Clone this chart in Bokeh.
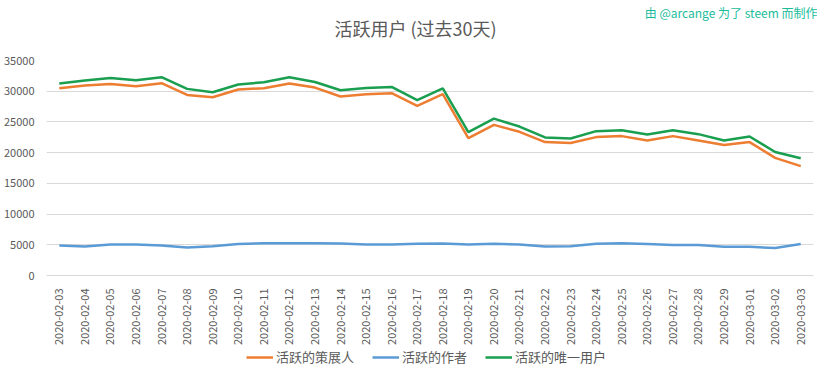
from bokeh.plotting import figure
from bokeh.models import Range1d, FixedTicker, Legend, LegendItem, Label, ColumnDataSource
from bokeh.layouts import column
from bokeh.embed import file_html
from bokeh.resources import INLINE
import math

dates = ["2020-02-03", "2020-02-04", "2020-02-05", "2020-02-06", "2020-02-07",
         "2020-02-08", "2020-02-09", "2020-02-10", "2020-02-11", "2020-02-12",
         "2020-02-13", "2020-02-14", "2020-02-15", "2020-02-16", "2020-02-17",
         "2020-02-18", "2020-02-19", "2020-02-20", "2020-02-21", "2020-02-22",
         "2020-02-23", "2020-02-24", "2020-02-25", "2020-02-26", "2020-02-27",
         "2020-02-28", "2020-02-29", "2020-03-01", "2020-03-02", "2020-03-03"]

curators = [30490, 30920, 31190, 30810, 31300, 29400, 29020, 30270, 30490, 31250,
            30590, 29140, 29520, 29680, 27630, 29520, 22370, 24520, 23390, 21720,
            21560, 22530, 22690, 21990, 22690, 21990, 21240, 21720, 19140, 17800]

authors = [4890, 4730, 5050, 5050, 4890, 4570, 4780, 5110, 5270, 5270,
           5270, 5215, 5050, 5050, 5160, 5215, 5050, 5160, 5050, 4730,
           4760, 5160, 5270, 5110, 4950, 4950, 4680, 4680, 4460, 5110]

unique_users = [31250, 31740, 32170, 31800, 32280, 30380, 29840, 31085, 31465, 32280,
                31505, 30160, 30540, 30700, 28550, 30480, 23330, 25540, 24250, 22470,
                22310, 23500, 23660, 22960, 23660, 23010, 21990, 22630, 20110, 19090]

y_ticks = [0, 5000, 10000, 15000, 20000, 25000, 30000, 35000]

series_names = ["活跃的策展人", "活跃的作者", "活跃的唯一用户"]
colors = ["#ed7d31", "#5b9bd5", "#1a9e4f"]

title_text = "活跃用户 (过去30天)"
credit_text = "由 @arcange 为了 steem 而制作"

FONT = "Noto Sans CJK SC"
GRAY = "#595959"
W = 817

def strip(h):
    f = figure(frame_width=W, frame_height=h, x_range=Range1d(0, W), y_range=Range1d(0, h),
               output_backend="svg", toolbar_location=None,
               min_border_left=0, min_border_right=0, min_border_top=0, min_border_bottom=0,
               x_axis_location=None, y_axis_location=None)
    f.grid.visible = False
    f.outline_line_color = None
    return f

# ---- header (titles) ----
HEAD_H = 52
head = strip(HEAD_H)
head.add_layout(Label(x=369, y=HEAD_H - 27, text=title_text, text_align="center",
                      text_baseline="middle", text_font=FONT, text_font_size="18px",
                      text_color=GRAY))
head.add_layout(Label(x=771, y=HEAD_H - 12, text=credit_text, text_align="right",
                      text_baseline="middle", text_font=FONT, text_font_size="12px",
                      text_color="#1abc9c"))

# ---- main chart ----
p = figure(frame_width=767, frame_height=215, x_range=dates, y_range=Range1d(0, 35000),
           output_backend="svg", toolbar_location=None,
           min_border_left=43, min_border_right=7, min_border_top=8, min_border_bottom=66)

src = ColumnDataSource(dict(x=dates, c=curators, a=authors, u=unique_users))
p.line("x", "c", source=src, line_color=colors[0], line_width=2.5)
p.line("x", "a", source=src, line_color=colors[1], line_width=2.5)
p.line("x", "u", source=src, line_color=colors[2], line_width=2.5)

p.yaxis.ticker = FixedTicker(ticks=y_ticks)
p.yaxis.axis_line_color = None
p.yaxis.major_tick_line_color = None
p.yaxis.minor_tick_line_color = None
p.yaxis.major_label_text_font = FONT
p.yaxis.major_label_text_font_size = "11px"
p.yaxis.major_label_text_color = GRAY
p.yaxis.major_label_standoff = 6

p.xaxis.axis_line_color = "#d9d9d9"
p.xaxis.major_tick_line_color = None
p.xaxis.minor_tick_line_color = None
p.xaxis.major_label_orientation = math.pi / 2
p.xaxis.major_label_text_font = FONT
p.xaxis.major_label_text_font_size = "11px"
p.xaxis.major_label_text_color = GRAY
p.xaxis.major_label_standoff = 7

p.xgrid.grid_line_color = None
p.ygrid.grid_line_color = "#d9d9d9"
p.outline_line_color = None

# ---- legend strip ----
LEG_H = 363 - HEAD_H - (8 + 215 + 66)
leg = strip(LEG_H)
nan = float("nan")
items = []
for name, col in zip(series_names, colors):
    r = leg.line(x=[nan], y=[nan], line_color=col, line_width=2.5)
    items.append(LegendItem(label=name, renderers=[r]))
legend = Legend(items=items, orientation="horizontal", location=(246, 3),
                label_text_font=FONT, label_text_font_size="13px",
                label_text_color=GRAY, border_line_color=None,
                background_fill_alpha=0, glyph_width=27, glyph_height=16,
                label_height=16, label_standoff=3,
                spacing=18, padding=0, margin=0)
leg.add_layout(legend, "center")

layout = column(head, p, leg, spacing=0)
open("out.html", "w").write(file_html(layout, INLINE))
